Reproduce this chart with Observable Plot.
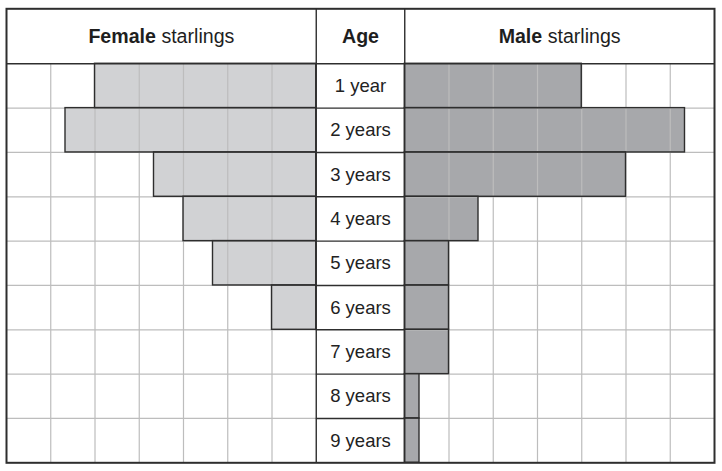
<!DOCTYPE html>
<html>
<head>
<meta charset="utf-8">
<script src="https://cdn.jsdelivr.net/npm/d3@7"></script>
<script src="https://cdn.jsdelivr.net/npm/@observablehq/plot@0.6"></script>
<style>
  html, body { margin: 0; padding: 0; background: #fff; }
  #chart svg { display: block; }
</style>
</head>
<body>
<div id="chart"></div>
<script>
// Data (number of starlings; one grid square = 3 birds)
const ages = ["1 year", "2 years", "3 years", "4 years", "5 years", "6 years", "7 years", "8 years", "9 years"];
const femaleCounts = [15, 17, 11, 9, 7, 3, 0, 0, 0];
const maleCounts = [12, 19, 15, 5, 3, 3, 3, 1, 1];
const headers = ["Female starlings", "Age", "Male starlings"];

// Layout constants (in birds along x, rows along y)
const gridStep = 3;
const panelWidth = 21;      // 7 grid squares
const midWidth = 6;         // 2 grid squares
const headerRows = 1.24;
const femaleEnd = panelWidth;
const maleStart = panelWidth + midWidth;
const totalWidth = maleStart + panelWidth;

const rows = ages.map((age, i) => ({age, i, f: femaleCounts[i], m: maleCounts[i]}));
const leftTicks = d3.range(gridStep, femaleEnd, gridStep);
const rightTicks = d3.range(maleStart + gridStep, totalWidth, gridStep);
const rowLines = d3.range(1, ages.length);

const dark = "#2e2e2e";
const grid = "#bdbdbd";
const font = "'Liberation Sans', Arial, Helvetica, sans-serif";

const headerData = [
  {label: headers[0], x: femaleEnd / 2},
  {label: headers[1], x: femaleEnd + midWidth / 2},
  {label: headers[2], x: maleStart + panelWidth / 2}
];

const chart = Plot.plot({
  width: 722,
  height: 471,
  marginLeft: 6,
  marginRight: 8,
  marginTop: 8.3,
  marginBottom: 8.7,
  style: {fontFamily: font, background: "#fff"},
  x: {domain: [0, totalWidth], axis: null},
  y: {domain: [-headerRows, ages.length], reverse: true, axis: null},
  marks: [
    // bar fills
    Plot.rect(rows.filter(d => d.f > 0), {x1: d => femaleEnd - d.f, x2: femaleEnd, y1: d => d.i, y2: d => d.i + 1, fill: "#d1d2d4"}),
    Plot.rect(rows.filter(d => d.m > 0), {x1: maleStart, x2: d => maleStart + d.m, y1: d => d.i, y2: d => d.i + 1, fill: "#a7a8ab"}),
    // grid
    Plot.ruleX(leftTicks, {y1: 0, y2: ages.length, stroke: grid, strokeWidth: 1.2}),
    Plot.ruleX(rightTicks, {y1: 0, y2: ages.length, stroke: grid, strokeWidth: 1.2}),
    Plot.ruleY(rowLines, {x1: 0, x2: femaleEnd, stroke: grid, strokeWidth: 1.2}),
    Plot.ruleY(rowLines, {x1: maleStart, x2: totalWidth, stroke: grid, strokeWidth: 1.2}),
    // bar outlines
    Plot.rect(rows.filter(d => d.f > 0), {x1: d => femaleEnd - d.f, x2: femaleEnd, y1: d => d.i, y2: d => d.i + 1, fill: "none", stroke: dark, strokeWidth: 1.4}),
    Plot.rect(rows.filter(d => d.m > 0), {x1: maleStart, x2: d => maleStart + d.m, y1: d => d.i, y2: d => d.i + 1, fill: "none", stroke: dark, strokeWidth: 1.4}),
    // middle column row lines
    Plot.ruleY(rowLines, {x1: femaleEnd, x2: maleStart, stroke: dark, strokeWidth: 1.4}),
    // header bottom line
    Plot.ruleY([0], {x1: 0, x2: totalWidth, stroke: dark, strokeWidth: 1.6}),
    // panel dividers
    Plot.ruleX([femaleEnd, maleStart], {y1: -headerRows, y2: ages.length, stroke: dark, strokeWidth: 1.4}),
    // outer frame
    Plot.frame({stroke: dark, strokeWidth: 2}),
    // age labels
    Plot.text(rows, {x: femaleEnd + midWidth / 2, y: d => d.i + 0.5, text: "age", fontSize: 18.5, fill: "#222", textAnchor: "middle"}),
    // headers
    Plot.text(headerData, {x: "x", y: -headerRows / 2, text: "label", fontSize: 19.6, fill: "#1e1e1e", textAnchor: "middle"})
  ]
});

// Make the first word of each header bold (Female / Age / Male)
d3.select(chart).selectAll("text").each(function() {
  const t = this.textContent;
  if (headers.includes(t)) {
    const sp = t.indexOf(" ");
    const first = sp < 0 ? t : t.slice(0, sp);
    const rest = sp < 0 ? "" : t.slice(sp);
    const sel = d3.select(this);
    sel.text(null);
    sel.append("tspan").attr("font-weight", "bold").text(first);
    if (rest) sel.append("tspan").attr("font-weight", "normal").attr("xml:space", "preserve").text(rest);
  }
});

document.getElementById("chart").appendChild(chart);
</script>
</body>
</html>
